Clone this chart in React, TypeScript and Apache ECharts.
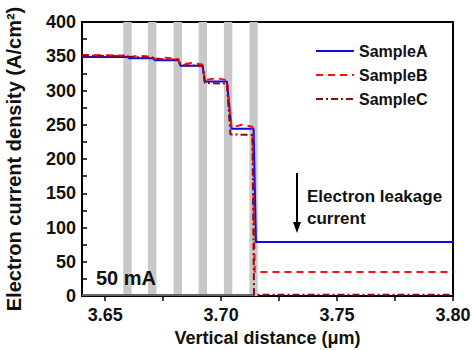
import React, { useEffect, useRef } from "react";
import * as echarts from "echarts";

const sampleA: [number, number][] = [
  [3.64, 349], [3.6595, 349], [3.6605, 347], [3.6705, 347], [3.6715, 344],
  [3.6815, 344], [3.6825, 336], [3.692, 336], [3.693, 313], [3.7025, 313],
  [3.7045, 244], [3.714, 244], [3.715, 79], [3.8, 79],
];
const sampleB: [number, number][] = [
  [3.64, 352], [3.6595, 351], [3.6605, 349], [3.665, 351], [3.6705, 349],
  [3.6715, 346], [3.676, 348], [3.6815, 346], [3.6825, 338], [3.687, 340],
  [3.692, 338], [3.693, 315], [3.698, 318], [3.7025, 315], [3.7045, 246],
  [3.709, 250], [3.7135, 247], [3.7145, 35], [3.8, 35],
];
const sampleC: [number, number][] = [
  [3.64, 351], [3.6595, 350], [3.6605, 349], [3.6705, 348], [3.6715, 346],
  [3.6815, 345], [3.6825, 337], [3.692, 336], [3.693, 311], [3.7025, 310],
  [3.704, 236], [3.7135, 235], [3.7142, 2], [3.8, 2],
];
const barrierStarts = [3.6578, 3.6685, 3.6795, 3.6903, 3.7012, 3.7122];
const barrierWidth = 0.0036;
const xTickValues = [3.65, 3.675, 3.7, 3.725, 3.75, 3.775, 3.8];
const xLabelValues = [3.65, 3.7, 3.75, 3.8];
const yLabelValues = [0, 50, 100, 150, 200, 250, 300, 350, 400];

const FONT = "'Liberation Sans', Arial, Helvetica, sans-serif";

export default function App() {
  const ref = useRef<HTMLDivElement>(null);
  useEffect(() => {
    if (!ref.current) return;
    const chart = echarts.init(ref.current, undefined, { renderer: "svg" });
    const bands = barrierStarts.map((s) => [
      { xAxis: s },
      { xAxis: s + barrierWidth },
    ]);
    chart.setOption({
      animation: false,
      grid: {
        left: 82, right: 19, top: 22, bottom: 54,
        outerBoundsMode: "none",
        containLabel: false,
        show: true, borderColor: "#000", borderWidth: 2,
      },
      legend: {
        orient: "vertical",
        left: 310,
        top: 38,
        itemWidth: 38,
        itemHeight: 14,
        itemGap: 8,
        itemStyle: { opacity: 0 },
        textStyle: { fontSize: 16, fontWeight: "bold", fontFamily: FONT, color: "#111" },
        data: ["SampleA", "SampleB", "SampleC"],
      },
      xAxis: {
        type: "value",
        min: 3.64,
        max: 3.8,
        name: "Vertical distance (\u03bcm)",
        nameLocation: "middle",
        nameGap: 26,
        nameTextStyle: { fontSize: 18, fontWeight: "bold", fontFamily: FONT, color: "#111" },
        axisLine: { show: true, lineStyle: { color: "#000", width: 2 } },
        axisTick: { show: true, inside: false, length: 5, lineStyle: { color: "#000", width: 1.5 }, customValues: xTickValues },
        axisLabel: {
          fontSize: 18, fontWeight: "bold", fontFamily: FONT, color: "#111", margin: 10,
          customValues: xLabelValues,
          formatter: (v: number) => v.toFixed(2),
        },
        splitLine: { show: false },
      },
      yAxis: {
        type: "value",
        min: 0,
        max: 400,
        interval: 25,
        name: "Electron current density (A/cm\u00b2)",
        nameLocation: "middle",
        nameGap: 58,
        nameTextStyle: { fontSize: 20, fontWeight: "bold", fontFamily: FONT, color: "#111" },
        axisLine: { show: true, lineStyle: { color: "#000", width: 2 } },
        axisTick: { show: true, inside: true, length: 5, lineStyle: { color: "#000", width: 1.5 } },
        axisLabel: {
          fontSize: 18, fontWeight: "bold", fontFamily: FONT, color: "#111", margin: 6,
          customValues: yLabelValues,
        },
        splitLine: { show: false },
      },
      series: [
        {
          name: "SampleA",
          type: "line",
          data: sampleA,
          symbol: "none",
          z: 3,
          lineStyle: { color: "#0a0af0", width: 2 },
          itemStyle: { color: "#0a0af0" },
          markArea: {
            silent: true,
            z: 1,
            itemStyle: { color: "#c8c8c8" },
            data: [
              ...bands,
              [
                { xAxis: 3.64, yAxis: 0, itemStyle: { color: "#666" } },
                { xAxis: 3.7145, yAxis: 3 },
              ],
            ],
          },
        },
        {
          name: "SampleB",
          type: "line",
          data: sampleB,
          symbol: "none",
          z: 4,
          lineStyle: { color: "#ff1010", width: 2, type: [7, 5] },
          itemStyle: { color: "#ff1010" },
        },
        {
          name: "SampleC",
          type: "line",
          data: sampleC,
          symbol: "none",
          z: 5,
          lineStyle: { color: "#8b0a0a", width: 2, type: [7, 3, 2, 3] },
          itemStyle: { color: "#8b0a0a" },
        },
      ],
      graphic: [
        {
          type: "line",
          z: 20,
          shape: { x1: 297, y1: 173, x2: 297, y2: 224 },
          style: { stroke: "#000", lineWidth: 2 },
        },
        {
          type: "polygon",
          z: 20,
          shape: { points: [[293, 222], [301, 222], [297, 233]] },
          style: { fill: "#000" },
        },
        {
          type: "text",
          z: 20,
          x: 307,
          y: 196,
          style: { text: "Electron leakage", font: `bold 17px ${FONT}`, fill: "#111", textVerticalAlign: "middle" },
        },
        {
          type: "text",
          z: 20,
          x: 307,
          y: 218,
          style: { text: "current", font: `bold 17px ${FONT}`, fill: "#111", textVerticalAlign: "middle" },
        },
        {
          type: "text",
          z: 20,
          x: 96,
          y: 278,
          style: { text: "50 mA", font: `bold 20px ${FONT}`, fill: "#111", textVerticalAlign: "middle" },
        },
      ],
    });
    return () => chart.dispose();
  }, []);
  return (
    <div
      ref={ref}
      style={{ position: "fixed", left: 0, top: 0, width: 472, height: 350, background: "#fff" }}
    />
  );
}
